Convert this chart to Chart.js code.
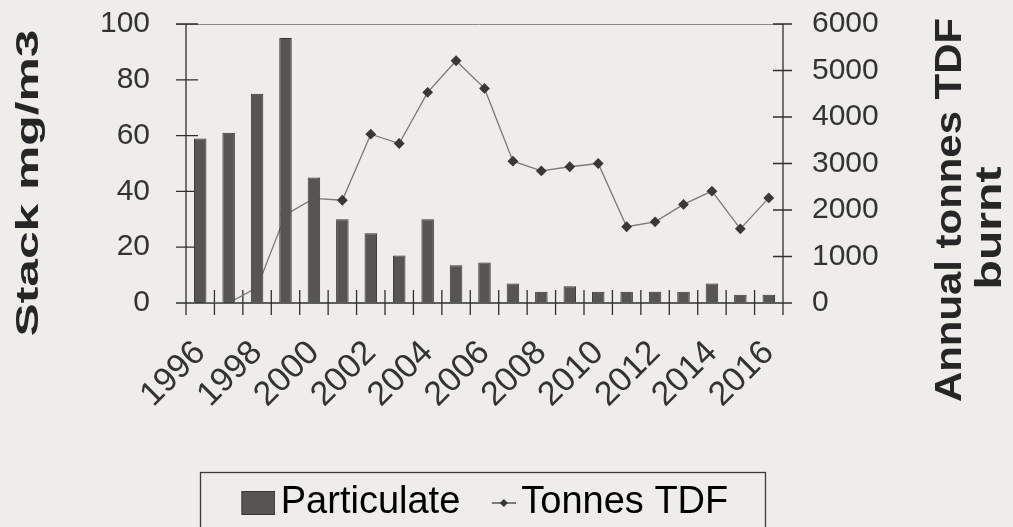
<!DOCTYPE html>
<html>
<head>
<meta charset="utf-8">
<script src="https://cdn.jsdelivr.net/npm/chart.js@4/dist/chart.umd.min.js"></script>
<style>
  html, body { margin: 0; padding: 0; background: #eeede9; }
  #wrap { width: 1013px; height: 527px; }
</style>
</head>
<body>
<div id="wrap"><canvas id="chartCanvas" width="1013" height="527"></canvas></div>
<script>
const years = ['1996', '1997', '1998', '1999', '2000', '2001', '2002', '2003', '2004', '2005', '2006',
  '2007', '2008', '2009', '2010', '2011', '2012', '2013', '2014', '2015', '2016'];
const particulate = [59, 61, 75, 95, 45, 30, 25, 17, 30, 13.5, 14.5, 7, 4, 6, 4, 4, 4, 4, 7, 3, 3];
const tonnesTDF = [0, 0, 330, 1900, 2250, 2210, 3630, 3430, 4530, 5210, 4615,
  3050, 2840, 2930, 3000, 1640, 1745, 2120, 2405, 1595, 2260];

const leftTitle = 'Stack mg/m3';
const rightTitle = ['Annual tonnes TDF', 'burnt'];

const barColor = '#575553';
const barEdge = '#383735';
const ink = '#2f2f2f';
const fontFamily = "'Liberation Sans', Arial, sans-serif";

// legend icons: drawn right-heavy so they sit close to their text
function makeIcon(draw) {
  const c = document.createElement('canvas');
  c.width = 48;
  c.height = 24;
  draw(c.getContext('2d'));
  return c;
}
const barIcon = makeIcon(g => {
  g.fillStyle = barColor;
  g.fillRect(14, 0.5, 34, 23);
  g.strokeStyle = barEdge;
  g.strokeRect(14.5, 0.5, 33, 23);
});
const lineIcon = makeIcon(g => {
  g.strokeStyle = '#555';
  g.lineWidth = 1.5;
  g.beginPath(); g.moveTo(24, 12); g.lineTo(48, 12); g.stroke();
  g.fillStyle = '#333';
  g.beginPath(); g.moveTo(36, 8); g.lineTo(40, 12); g.lineTo(36, 16); g.lineTo(32, 12); g.closePath(); g.fill();
});

function stretchedText(ctx, text, cx, cy, len, font) {
  ctx.save();
  ctx.font = font;
  const w = ctx.measureText(text).width;
  ctx.translate(cx, cy);
  ctx.rotate(-Math.PI / 2);
  ctx.scale(len / w, 1);
  ctx.textAlign = 'center';
  ctx.textBaseline = 'middle';
  ctx.fillStyle = '#262626';
  ctx.fillText(text, 0, 0);
  ctx.restore();
}

const framePlugin = {
  id: 'frame',
  beforeDatasetsDraw(chart) {
    const { ctx, chartArea: a, scales } = chart;
    const x = scales.x, yl = scales.y, yr = scales.y1;
    ctx.save();
    ctx.strokeStyle = '#8c8b88';
    ctx.lineWidth = 1;
    ctx.beginPath();
    ctx.moveTo(a.left - 10, a.top + 0.5);
    ctx.lineTo(a.right, a.top + 0.5);
    ctx.stroke();

    ctx.strokeStyle = ink;
    ctx.lineWidth = 1.3;
    ctx.beginPath();
    ctx.moveTo(a.left, a.top); ctx.lineTo(a.left, a.bottom + 12);
    ctx.moveTo(a.right, a.top); ctx.lineTo(a.right, a.bottom + 12);
    ctx.moveTo(a.left - 10, a.bottom); ctx.lineTo(a.right + 9, a.bottom);
    yl.ticks.forEach(t => {
      const py = yl.getPixelForValue(t.value);
      ctx.moveTo(a.left - 10, py); ctx.lineTo(a.left + 12, py);
    });
    yr.ticks.forEach(t => {
      const py = yr.getPixelForValue(t.value);
      ctx.moveTo(a.right - 10, py); ctx.lineTo(a.right + 9, py);
    });
    for (let i = 0; i <= years.length; i++) {
      const px = x.getPixelForValue(i - 0.5);
      ctx.moveTo(px, a.bottom - 13); ctx.lineTo(px, a.bottom + 12);
    }
    ctx.stroke();
    ctx.restore();
  },
  afterDraw(chart) {
    const { ctx, legend } = chart;
    stretchedText(ctx, leftTitle, 29, 183, 307, "bold 32px " + fontFamily);
    stretchedText(ctx, rightTitle[0], 951, 210, 384, "bold 36px " + fontFamily);
    stretchedText(ctx, rightTitle[1], 991, 228, 123, "bold 36px " + fontFamily);

    ctx.save();
    ctx.strokeStyle = '#3a3a3a';
    ctx.lineWidth = 1.3;
    ctx.strokeRect(legend.left + 14.5, legend.top + 9.5, legend.width - 32, legend.height + 20);
    ctx.restore();
  }
};

const tickFont = { family: fontFamily, size: 30 };
// invisible tick marks only reserve the gap between axis and labels
const spacerGrid = len => ({ display: true, drawOnChartArea: false, drawTicks: true, tickLength: len, color: 'transparent' });

new Chart(document.getElementById('chartCanvas').getContext('2d'), {
  data: {
    labels: years,
    datasets: [
      {
        type: 'bar',
        label: 'Particulate',
        data: particulate,
        yAxisID: 'y',
        backgroundColor: barColor,
        borderColor: barEdge,
        borderWidth: 1,
        barPercentage: 0.44,
        categoryPercentage: 1,
        order: 1
      },
      {
        type: 'line',
        label: 'Tonnes TDF',
        data: tonnesTDF,
        yAxisID: 'y1',
        borderColor: '#7a7977',
        borderWidth: 1.3,
        tension: 0,
        pointStyle: 'rectRot',
        pointRadius: 4.5,
        pointBackgroundColor: '#3a3938',
        pointBorderColor: '#3a3938',
        order: 2
      }
    ]
  },
  options: {
    responsive: false,
    animation: false,
    layout: { padding: { top: 24, left: 0, right: 0, bottom: -5 } },
    scales: {
      x: {
        offset: true,
        grid: spacerGrid(30),
        border: { display: false },
        ticks: {
          autoSkip: false,
          minRotation: 45,
          maxRotation: 45,
          padding: 0,
          color: '#333',
          font: { family: fontFamily, size: 34 },
          callback: (v, i) => (i % 2 === 0 ? years[i] : '')
        },
        afterFit: s => { s.height = 160; }
      },
      y: {
        position: 'left',
        min: 0,
        max: 100,
        grid: spacerGrid(36),
        border: { display: false },
        ticks: { stepSize: 20, padding: 0, color: '#333', font: tickFont },
        afterFit: s => { s.width = 186; }
      },
      y1: {
        position: 'right',
        min: 0,
        max: 6000,
        grid: spacerGrid(29),
        border: { display: false },
        ticks: { stepSize: 1000, padding: 0, color: '#333', font: tickFont, callback: v => String(v) },
        afterFit: s => { s.width = 230; }
      }
    },
    plugins: {
      tooltip: { enabled: false },
      legend: {
        position: 'bottom',
        fullSize: false,
        labels: {
          usePointStyle: true,
          pointStyleWidth: 21,
          boxHeight: 23,
          padding: 21,
          color: '#222',
          font: { family: fontFamily, size: 38 },
          generateLabels: () => [
            { text: 'Particulate', fillStyle: barColor, strokeStyle: barEdge, lineWidth: 0, pointStyle: barIcon, datasetIndex: 0 },
            { text: 'Tonnes TDF', fillStyle: 'transparent', strokeStyle: 'transparent', lineWidth: 0, pointStyle: lineIcon, datasetIndex: 1 }
          ]
        }
      }
    }
  },
  plugins: [framePlugin]
});
</script>
</body>
</html>
